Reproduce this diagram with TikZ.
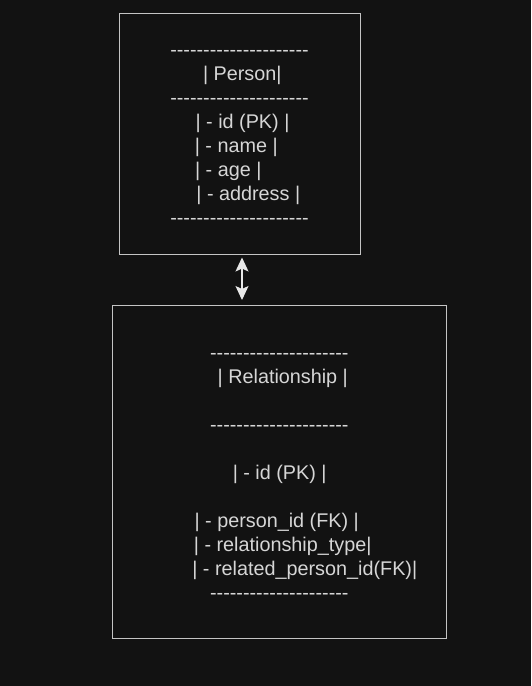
\documentclass[tikz,border=0pt]{standalone}
\usepackage{fontspec}
\setmainfont{Liberation Sans}[Ligatures=TeXOff]
\usetikzlibrary{arrows.meta}
\definecolor{bg}{HTML}{121212}
\definecolor{edge}{HTML}{C4C4C4}
\definecolor{txt}{HTML}{D6D6D6}
\definecolor{arr}{HTML}{E8E8E8}
\newcommand{\dashrow}{---------------------}
\begin{document}
\begin{tikzpicture}[x=1pt,y=-1pt,
  box/.style={draw=edge,line width=1pt,rectangle,inner sep=0pt,outer sep=0pt},
  lbl/.style={text=txt,inner sep=0pt,anchor=base,font=\fontsize{19.8}{24}\selectfont},
  link/.style={draw=arr,line width=1.2pt,{Stealth[width=13pt,length=14pt,inset=3pt]}-{Stealth[width=13pt,length=14pt,inset=3pt]}}]
\fill[bg] (0,0) rectangle (531,686);
\useasboundingbox (0,0) rectangle (531,686);
% boxes
\node[box,minimum width=241pt,minimum height=241pt] (person) at (240,134) {};
\node[box,minimum width=334pt,minimum height=333.5pt] (rel) at (279,471.75) {};
% Person text
\node[lbl] (p1) at (239.5,56) {\dashrow};
\node[lbl] (p2) at (242.3,80) {| Person|};
\node[lbl] (p3) at (239.5,104) {\dashrow};
\node[lbl] (p4) at (242.5,128) {| - id (PK) |};
\node[lbl] (p5) at (236.3,152) {| - name |};
\node[lbl] (p6) at (228.3,176) {| - age |};
\node[lbl] (p7) at (248.3,200) {| - address |};
\node[lbl] (p8) at (239.5,224) {\dashrow};
% Relationship text
\node[lbl] (r1) at (279.3,359) {\dashrow};
\node[lbl] (r2) at (282.8,383) {| Relationship |};
\node[lbl] (r3) at (279.3,431) {\dashrow};
\node[lbl] (r4) at (279.7,479) {| - id (PK) |};
\node[lbl] (r5) at (276.7,527) {| - person\_id (FK) |};
\node[lbl] (r6) at (282.7,551) {| - relationship\_type|};
\node[lbl] (r7) at (304.8,575) {| - related\_person\_id(FK)|};
\node[lbl] (r8) at (279.3,599) {\dashrow};
% connector
\coordinate (ax) at (242,0);
\draw[link,shorten <=3pt,shorten >=5pt] (person.south -| ax) -- (rel.north -| ax);
\end{tikzpicture}
\end{document}
